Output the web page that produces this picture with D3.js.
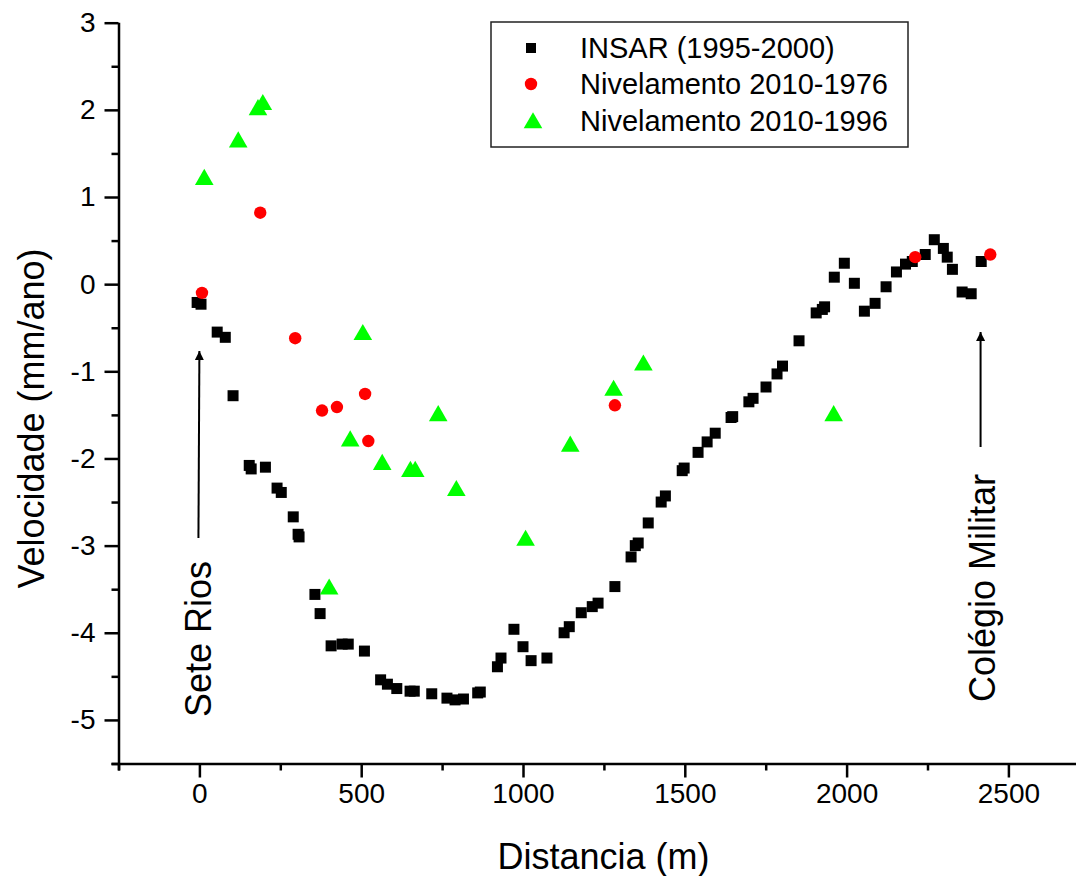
<!DOCTYPE html>
<html>
<head>
<meta charset="utf-8">
<script src="https://cdn.jsdelivr.net/npm/d3@7"></script>
<style>
  html, body { margin: 0; padding: 0; background: #fff; }
  svg { display: block; }
  text { font-family: "Liberation Sans", Arial, sans-serif; fill: #000; }
</style>
</head>
<body>
<svg id="chart" width="1076" height="876"></svg>
<script>
// ---- data ----
const insarX = [-7, 5, 55, 80, 104, 154, 160, 204, 240, 253, 290, 305, 308, 357, 373, 407, 441, 460, 510, 560, 581, 610, 651, 664, 718, 765, 790, 816, 860, 868, 921, 932, 972, 1000, 1025, 1074, 1127, 1143, 1180, 1214, 1232, 1284, 1334, 1347, 1356, 1387, 1427, 1440, 1492, 1498, 1541, 1569, 1594, 1643, 1648, 1698, 1711, 1751, 1785, 1802, 1853, 1906, 1925, 1932, 1962, 1993, 2024, 2055, 2088, 2122, 2154, 2182, 2203, 2243, 2271, 2299, 2311, 2327, 2357, 2385, 2416];
const insarY = [-0.21, -0.23, -0.55, -0.61, -1.28, -2.08, -2.12, -2.10, -2.34, -2.39, -2.67, -2.87, -2.90, -3.56, -3.78, -4.15, -4.13, -4.13, -4.21, -4.54, -4.59, -4.64, -4.67, -4.67, -4.70, -4.75, -4.77, -4.76, -4.69, -4.68, -4.39, -4.29, -3.96, -4.16, -4.32, -4.29, -4.00, -3.93, -3.77, -3.70, -3.66, -3.47, -3.13, -3.00, -2.97, -2.74, -2.50, -2.43, -2.14, -2.11, -1.93, -1.81, -1.71, -1.53, -1.52, -1.35, -1.31, -1.18, -1.03, -0.94, -0.65, -0.33, -0.29, -0.26, 0.08, 0.24, 0.01, -0.31, -0.22, -0.03, 0.14, 0.23, 0.26, 0.34, 0.51, 0.41, 0.31, 0.17, -0.09, -0.11, 0.26];

const niv76X = [8, 188, 296, 379, 425, 512, 522, 1284, 2212, 2444];
const niv76Y = [-0.10, 0.82, -0.62, -1.45, -1.41, -1.26, -1.80, -1.39, 0.31, 0.34];

const niv96X = [15, 120, 181, 196, 401, 466, 505, 565, 652, 667, 738, 794, 1008, 1146, 1280, 1372, 1960];
const niv96Y = [1.20, 1.63, 2.00, 2.06, -3.50, -1.80, -0.58, -2.07, -2.15, -2.15, -1.51, -2.37, -2.94, -1.86, -1.22, -0.93, -1.51];

const xTicks = [0, 500, 1000, 1500, 2000, 2500];
const yTicks = [-5, -4, -3, -2, -1, 0, 1, 2, 3];
const seriesNames = ["INSAR (1995-2000)", "Nivelamento 2010-1976", "Nivelamento 2010-1996"];
const annotations = ["Sete Rios", "Colégio Militar"];

// ---- scales ----
const svg = d3.select("#chart");
const x = d3.scaleLinear().domain([-250, 2750]).range([118.5, 1089.3]);
const y = d3.scaleLinear().domain([-5.5, 3]).range([763.5, 22.7]);
const plainFmt = d => String(d);

// ---- axes ----
const xMinor = d3.range(-250, 2751, 500);
const yMinor = d3.range(-5.5, 3, 1);

const gx = svg.append("g").attr("transform", `translate(0,${y(-5.5)})`);
gx.call(d3.axisBottom(x).tickValues(xTicks).tickSize(14).tickPadding(6).tickFormat(plainFmt));
gx.append("g").call(d3.axisBottom(x).tickValues(xMinor).tickSize(7).tickFormat(""))
  .select(".domain").remove();

const gy = svg.append("g").attr("transform", `translate(${x(-250)},0)`);
gy.call(d3.axisLeft(y).tickValues(yTicks).tickSize(14).tickPadding(9).tickFormat(plainFmt));
gy.append("g").call(d3.axisLeft(y).tickValues(yMinor).tickSize(7).tickFormat(""))
  .select(".domain").remove();

svg.selectAll(".domain").attr("stroke", "#000").attr("stroke-width", 2.5);
svg.selectAll(".tick line").attr("stroke", "#000").attr("stroke-width", 2.5);
svg.selectAll(".tick text").style("font-family", '"Liberation Sans", Arial, sans-serif')
  .style("font-size", "28px").attr("fill", "#000");
gx.select(".domain").attr("d", `M${x(-250) - 7},0.5H1076`);
gy.select(".domain").attr("d", `M0.5,${y(3)}V${y(-5.5) + 7}`);

// axis titles
svg.append("text").attr("x", 603.5).attr("y", 869).attr("text-anchor", "middle")
  .style("font-size", "36px").text("Distancia (m)");
svg.append("text").attr("transform", `translate(44,${(247 + 590) / 2}) rotate(-90)`)
  .attr("text-anchor", "middle").style("font-size", "36px").text("Velocidade (mm/ano)");

// ---- annotations ----
const defs = svg.append("defs");
defs.append("marker").attr("id", "arrow").attr("viewBox", "0 0 10 10")
  .attr("refX", 10).attr("refY", 5).attr("markerWidth", 9).attr("markerHeight", 9)
  .attr("markerUnits", "userSpaceOnUse").attr("orient", "auto")
  .append("path").attr("d", "M0,0L10,5L0,10z").attr("fill", "#000");

svg.append("line").attr("x1", x(-3)).attr("y1", 538).attr("x2", x(0)).attr("y2", 351)
  .attr("stroke", "#000").attr("stroke-width", 2).attr("marker-end", "url(#arrow)");
svg.append("line").attr("x1", x(2414)).attr("y1", 447).attr("x2", x(2414)).attr("y2", 332)
  .attr("stroke", "#000").attr("stroke-width", 2).attr("marker-end", "url(#arrow)");

svg.append("text").attr("transform", `translate(211,717) rotate(-90)`)
  .style("font-size", "36px").text(annotations[0]);
svg.append("text").attr("transform", `translate(995,702) rotate(-90)`)
  .style("font-size", "36px").text(annotations[1]);

// ---- marks ----
const sq = d3.symbol(d3.symbolSquare, 121);
const tri = d3.symbol(d3.symbolTriangle, 150);

svg.append("g").selectAll("path").data(d3.zip(insarX, insarY)).join("path")
  .attr("d", sq).attr("transform", d => `translate(${x(d[0])},${y(d[1])})`)
  .attr("fill", "#000");

svg.append("g").selectAll("circle").data(d3.zip(niv76X, niv76Y)).join("circle")
  .attr("cx", d => x(d[0])).attr("cy", d => y(d[1])).attr("r", 6.2)
  .attr("fill", "#ff0000");

svg.append("g").selectAll("path").data(d3.zip(niv96X, niv96Y)).join("path")
  .attr("d", tri).attr("transform", d => `translate(${x(d[0])},${y(d[1])})`)
  .attr("fill", "#00ff00");

// ---- legend ----
const lg = svg.append("g");
lg.append("rect").attr("x", 491).attr("y", 22).attr("width", 417).attr("height", 125)
  .attr("fill", "#fff").attr("stroke", "#222").attr("stroke-width", 1.5);
const rowsY = [48, 84, 121];
lg.append("path").attr("d", d3.symbol(d3.symbolSquare, 100)).attr("transform", `translate(531,${rowsY[0]})`).attr("fill", "#000");
lg.append("circle").attr("cx", 531).attr("cy", rowsY[1]).attr("r", 6.2).attr("fill", "#ff0000");
lg.append("path").attr("d", tri).attr("transform", `translate(533,${rowsY[2] + 2})`).attr("fill", "#00ff00");
lg.selectAll("text.lab").data(seriesNames).join("text").attr("class", "lab")
  .attr("x", 580).attr("y", (d, i) => rowsY[i] + 10).style("font-size", "29px").text(d => d);
</script>
</body>
</html>
